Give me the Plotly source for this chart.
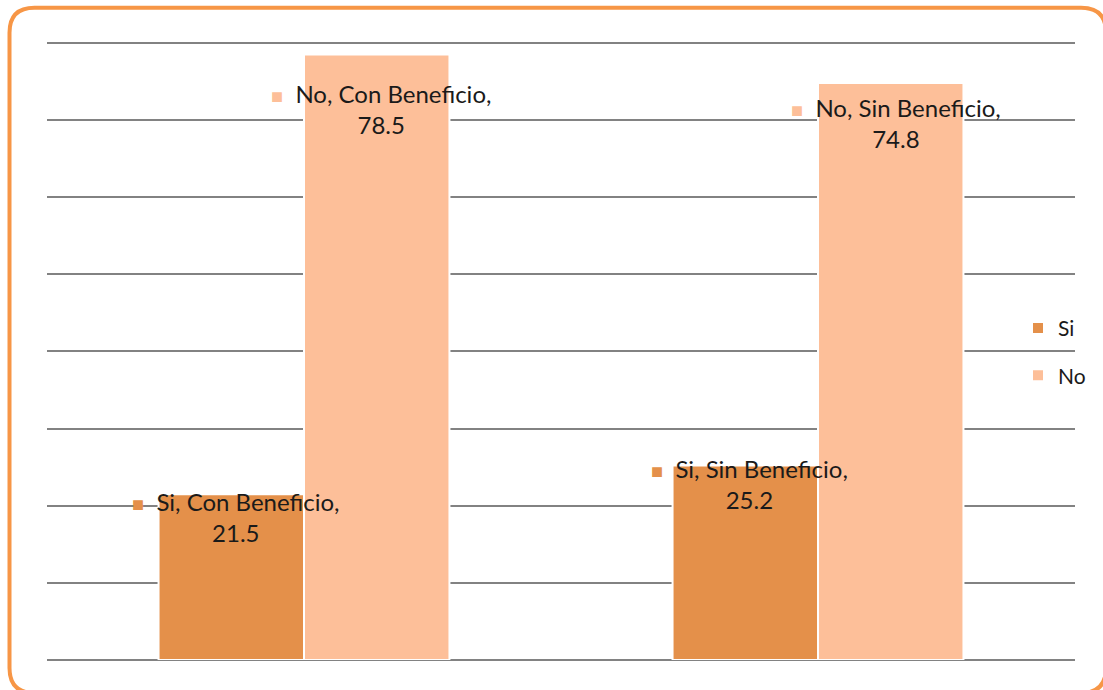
import plotly.graph_objects as go

# ---- data ----
categories = ["Con Beneficio", "Sin Beneficio"]
si_values = [21.5, 25.2]
no_values = [78.5, 74.8]
series_names = ["Si", "No"]
y_max, y_step = 80, 10

# ---- style ----
COL_SI = "#E4904A"
COL_NO = "#FDBF99"
GRID = "#828282"
FONT = "Lato"
W, H = 1103, 690
L, R, B = 47, 28, 30
TOP_PX = 43                      # pixel row of the top gridline
SCALE = (H - B - TOP_PX) / y_max  # px per unit
PAD_TOP = 0.5                    # extra range so the top gridline is drawn
T = TOP_PX - PAD_TOP * SCALE
PW, PH = W - L - R, H - T - B
BARGAP = 0.434
BAR_W = (1 - BARGAP) * PW / len(categories) / 2  # px width of one bar

# extra label offsets (px) relative to each bar's centre/top: (xshift, yshift)
si_offsets = [(5, -23), (4, -18)]
no_offsets = [(4, -55), (5, -40)]

fig = go.Figure()
fig.add_trace(go.Bar(x=categories, y=si_values, name=series_names[0],
                     marker=dict(color=COL_SI, line=dict(color="white", width=2)),
                     legendgroup="a"))
fig.add_trace(go.Bar(x=categories, y=no_values, name=series_names[1],
                     marker=dict(color=COL_NO, line=dict(color="white", width=2)),
                     legendgroup="b"))

annotations = []
for name, vals, col, offs, side in [(series_names[0], si_values, COL_SI, si_offsets, -1),
                                    (series_names[1], no_values, COL_NO, no_offsets, 1)]:
    for i, (cat, v) in enumerate(zip(categories, vals)):
        text = (f"<span style='color:{col};font-size:20px'>■</span>&nbsp;&nbsp;"
                f"{name}, {cat},<br>{v}")
        annotations.append(dict(
            x=cat, y=v, xref="x", yref="y", text=text, showarrow=False,
            xshift=side * BAR_W / 2 + offs[i][0], yshift=offs[i][1],
            align="center", font=dict(family=FONT, size=24, color="#1a1a1a"),
        ))


def px(x):
    return (x - L) / PW


def py(y):
    return (H - B - y) / PH


# rounded border (partly running off the page at right and bottom)
x0, y0, x1, y1, r = 9.5, 8, 1106, 693, 25
path = (f"M {px(x0 + r)},{py(y0)} L {px(x1 - r)},{py(y0)} "
        f"Q {px(x1)},{py(y0)} {px(x1)},{py(y0 + r)} "
        f"L {px(x1)},{py(y1 - r)} Q {px(x1)},{py(y1)} {px(x1 - r)},{py(y1)} "
        f"L {px(x0 + r)},{py(y1)} Q {px(x0)},{py(y1)} {px(x0)},{py(y1 - r)} "
        f"L {px(x0)},{py(y0 + r)} Q {px(x0)},{py(y0)} {px(x0 + r)},{py(y0)} Z")

fig.update_layout(
    width=W, height=H,
    margin=dict(l=L, r=R, t=T, b=B, pad=0),
    plot_bgcolor="white", paper_bgcolor="white",
    barmode="group", bargap=BARGAP, bargroupgap=0,
    font=dict(family=FONT, size=21, color="#1a1a1a"),
    xaxis=dict(showticklabels=False, showgrid=False, zeroline=False,
               showline=False, ticks=""),
    yaxis=dict(range=[0, y_max + PAD_TOP], tick0=0, dtick=y_step,
               showticklabels=False, showgrid=True,
               gridcolor=GRID, gridwidth=2, zeroline=True, zerolinecolor=GRID,
               zerolinewidth=2, showline=False, ticks=""),
    legend=dict(x=px(1018), y=py(308), xanchor="left", yanchor="top",
                bgcolor="rgba(0,0,0,0)", tracegroupgap=17,
                font=dict(family=FONT, size=21, color="#1a1a1a")),
    showlegend=True,
    annotations=annotations,
    shapes=[dict(type="path", xref="paper", yref="paper", path=path,
                 line=dict(color="#F79646", width=4), layer="above")],
)

fig.write_html("out.html", config={"displayModeBar": False},
               post_script="document.body.style.margin='0';document.body.style.overflow='hidden';")
